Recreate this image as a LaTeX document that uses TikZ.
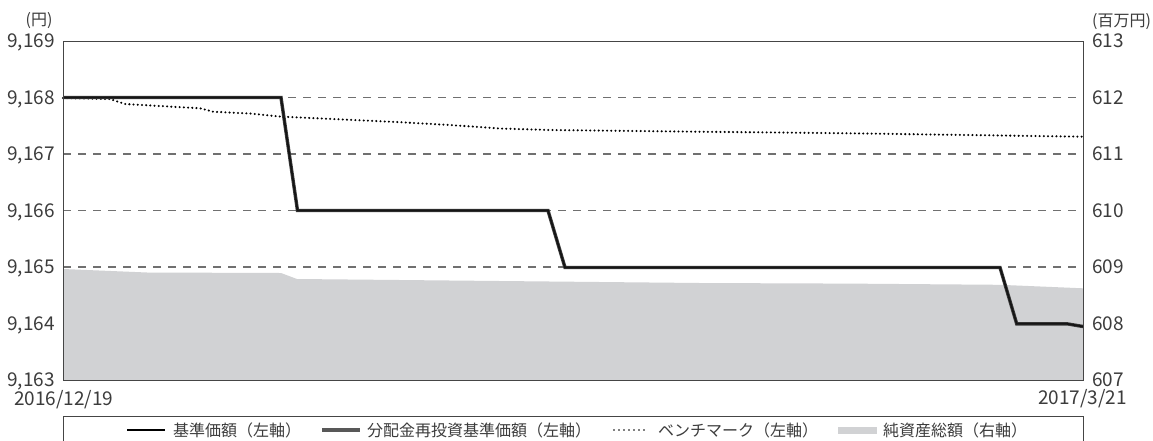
\documentclass[tikz,border=0pt]{standalone}
\usepackage{fontspec}
\setmainfont{Noto Sans CJK JP}
\begin{document}
\begin{tikzpicture}[x=1pt,y=-1pt,
  lbl/.style={inner sep=0pt,text=txt,font=\fontsize{19}{19}\selectfont},
  leg/.style={inner sep=0pt,text=txt,anchor=west,font=\fontsize{16}{16}\selectfont},
  grid/.style={draw=gridc,line width=1.1pt,dash pattern=on 8pt off 7pt},
  frame/.style={draw=framec,line width=1pt},
  nav/.style={fill=navc},
  bench/.style={draw=black,line width=2.3pt,line cap=round,dash pattern=on 0pt off 4.2pt},
  reinv/.style={draw=reinvc,line width=3.4pt,line join=miter},
  base/.style={draw=basec,line width=1.8pt,line join=miter}]
\definecolor{txt}{HTML}{3C3C3C}
\definecolor{gridc}{HTML}{707070}
\definecolor{framec}{HTML}{454545}
\definecolor{navc}{HTML}{D1D2D4}
\definecolor{reinvc}{HTML}{3A3A3A}
\definecolor{basec}{HTML}{151515}
\useasboundingbox[fill=white] (0,0) rectangle (1153,440);
% grid
\foreach \yy in {97.5,154,210.5,267,323.5}{\draw[grid] (63,\yy) -- (1083,\yy);}
% net assets fill
\path[nav] (63,380) -- (63,269) -- (147,272.5) -- (281,273) -- (297,279) -- (400,280)
  -- (550,281.5) -- (700,283) -- (850,283.6) -- (1000,284.8) -- (1083,288.3) -- (1083,380) -- cycle;
% benchmark
\draw[bench] (63,98) -- (110,99) -- (125,104) -- (200,108.3) -- (213,111.7) -- (250,113.5)
  -- (280,116.5) -- (300,117.5) -- (350,119.8) -- (400,122.2) -- (450,125) -- (500,128.5)
  -- (550,130) -- (700,131.7) -- (850,133.3) -- (1083,136.7);
% reinvested NAV and NAV
\draw[reinv] (63,97.5) -- (281,97.5) -- (297.5,210.5) -- (548,210.5) -- (565,267.5) -- (1000,267.5)
  -- (1016.7,323.8) -- (1067,323.8) -- (1083,326.5);
\draw[base] (63,97.5) -- (281,97.5) -- (297.5,210.5) -- (548,210.5) -- (565,267.5) -- (1000,267.5)
  -- (1016.7,323.8) -- (1067,323.8) -- (1083,326.5);
% frame
\draw[frame] (63,41) rectangle (1083,380);
% axis labels
\node[lbl,anchor=center,font=\fontsize{16}{16}\selectfont] (yl) at (39,21) {(円)};
\node[lbl,anchor=west,font=\fontsize{16}{16}\selectfont] (yr) at (1092,22) {(百万円)};
\foreach \lv/\rv [count=\i from 0] in {169/613,168/612,167/611,166/610,165/609,164/608,163/607}{
  \node[lbl,anchor=base east] (l\i) at (55,{41+56.5*\i+6.8}) {9,\lv};
  \node[lbl,anchor=base west] (r\i) at (1092,{41+56.5*\i+6.8}) {\rv};
}
\node[lbl,anchor=base west] (d0) at (14,405) {2016/12/19};
\node[lbl,anchor=base east] (d1) at (1127,404.5) {2017/3/21};
% legend
\draw[frame] (63,446) -- (63,416) -- (1083,416) -- (1083,446);
\coordinate (a1) at (127,430); \coordinate (a2) at (165,430);
\draw[draw=black,line width=1.8pt] (a1) -- (a2);
\node[leg] (t1) at (173,430) {基準価額（左軸）};
\coordinate (b1) at (322,430); \coordinate (b2) at (360,430);
\draw[draw=reinvc!85!white,line width=4pt] (b1) -- (b2);
\node[leg] (t2) at (367,430) {分配金再投資基準価額（左軸）};
\coordinate (c1) at (614,430); \coordinate (c2) at (648,430);
\draw[bench,line width=1.8pt,dash pattern=on 0pt off 5pt] (c1) -- (c2);
\node[leg] (t3) at (658,430) {ベンチマーク（左軸）};
\path[nav] (838,426.5) rectangle (877,433.5);
\node[leg] (t4) at (883,430) {純資産総額（右軸）};
\end{tikzpicture}
\end{document}
